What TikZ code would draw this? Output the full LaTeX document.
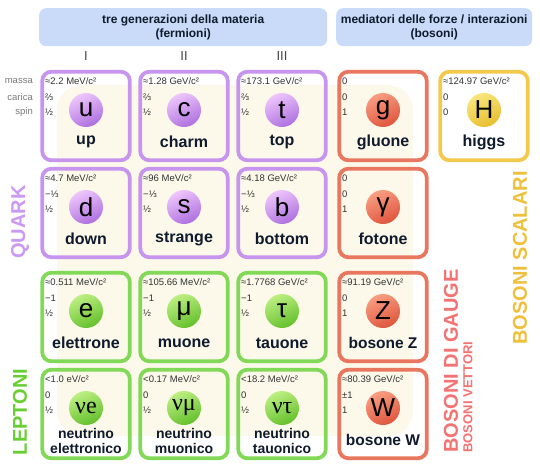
\documentclass[tikz,border=0pt]{standalone}
\usepackage{fontspec}
\setmainfont{Liberation Sans}
\newfontfamily\serifnu{Liberation Serif}
\definecolor{qborder}{HTML}{C795EE}
\definecolor{qtop}{HTML}{EEC6FC}
\definecolor{qbot}{HTML}{AE70DF}
\definecolor{lborder}{HTML}{82D957}
\definecolor{ltop}{HTML}{BDEF82}
\definecolor{lbot}{HTML}{64C02C}
\definecolor{gborder}{HTML}{E9765E}
\definecolor{gtop}{HTML}{F99E82}
\definecolor{gbot}{HTML}{DF553D}
\definecolor{hborder}{HTML}{F2C94C}
\definecolor{htop}{HTML}{F8E67C}
\definecolor{hbot}{HTML}{E8BF30}
\definecolor{headblue}{HTML}{C9DBF8}
\definecolor{nametext}{HTML}{0F1B2C}
\definecolor{infotext}{HTML}{333333}
\definecolor{graytext}{HTML}{7A7A7A}
\definecolor{romantext}{HTML}{444444}
\definecolor{beige}{HTML}{FCF8EA}
\definecolor{quarkcol}{HTML}{CB98F4}
\definecolor{leptcol}{HTML}{68CF33}
\definecolor{gaugecol}{HTML}{F47272}
\definecolor{scalcol}{HTML}{EFC03A}
\newcommand\pcard[8]{%
  \node[card, draw=#4border] (#1) at (#2,#3) {};
  \node[ball, top color=#4top, bottom color=#4bot, shading angle=25] (#1s) at (#2,#3-6) {#8};
  \node[info] (#1m) at (#2-41,#3-35) {#5};
  \node[info] (#1q) at (#2-41,#3-19) {#6};
  \node[info] (#1j) at (#2-41,#3-4) {#7};
}
\begin{document}
\begin{tikzpicture}[x=1pt,y=-1pt,
  card/.style={rectangle, rounded corners=9pt, line width=3.8pt, minimum width=87.5pt, minimum height=88.5pt, inner sep=0pt},
  ball/.style={circle, minimum size=34pt, inner sep=0pt, font=\fontsize{26}{26}\selectfont, text=black},
  info/.style={anchor=west, inner sep=0pt, font=\fontsize{9.5}{10}\selectfont, text=infotext},
  nm/.style={font=\bfseries\fontsize{16}{17}\selectfont, text=nametext, inner sep=0pt},
  nmtwo/.style={font=\bfseries\fontsize{14}{15.5}\selectfont, text=nametext, align=center, inner sep=0pt},
  rowlbl/.style={anchor=east, inner sep=0pt, font=\fontsize{9.5}{10}\selectfont, text=graytext},
  roman/.style={font=\fontsize{13}{13}\selectfont, text=romantext, inner sep=0pt},
  head/.style={rounded corners=7pt, fill=headblue, anchor=north west, inner sep=0pt, font=\bfseries\fontsize{12}{14}\selectfont, align=center, text=nametext},
  bigside/.style={rotate=90, font=\bfseries\fontsize{20}{20}\selectfont, inner sep=0pt}
]
\useasboundingbox (0,0) rectangle (540,470);
\fill[white] (0,0) rectangle (540,470);
% faint background
\fill[beige, rounded corners=25pt] (57,85) rectangle (413,436);
% headers
\node[head, minimum width=288pt, minimum height=38pt] (hferm) at (39,8) {tre generazioni della materia\\(fermioni)};
\node[head, minimum width=196pt, minimum height=38pt] (hbos) at (336,8) {mediatori delle forze / interazioni\\(bosoni)};
% roman numerals
\node[roman] (gen1) at (86,56) {I};
\node[roman] (gen2) at (184,56) {II};
\node[roman] (gen3) at (282,56) {III};
% row labels
\node[rowlbl] (lmass) at (33,81) {massa};
\node[rowlbl] (lcharge) at (33,97) {carica};
\node[rowlbl] (lspin) at (33,112) {spin};
% quarks
\pcard{up}{86}{116}{q}{≈2.2 MeV/c²}{⅔}{½}{u}
\pcard{charm}{184}{116}{q}{≈1.28 GeV/c²}{⅔}{½}{c}
\pcard{top}{282}{116}{q}{≈173.1 GeV/c²}{⅔}{½}{t}
\pcard{down}{86}{213}{q}{≈4.7 MeV/c²}{−⅓}{½}{d}
\pcard{strange}{184}{213}{q}{≈96 MeV/c²}{−⅓}{½}{s}
\pcard{bottom}{282}{213}{q}{≈4.18 GeV/c²}{−⅓}{½}{b}
% leptons
\pcard{elec}{86}{317}{l}{≈0.511 MeV/c²}{−1}{½}{e}
\pcard{muon}{184}{317}{l}{≈105.66 MeV/c²}{−1}{½}{μ}
\pcard{tau}{282}{317}{l}{≈1.7768 GeV/c²}{−1}{½}{τ}
\pcard{nue}{86}{414}{l}{<1.0 eV/c²}{0}{½}{\serifnu\fontsize{24}{24}\selectfont νe}
\pcard{numu}{184}{414}{l}{<0.17 MeV/c²}{0}{½}{\serifnu\fontsize{24}{24}\selectfont νμ}
\pcard{nutau}{282}{414}{l}{<18.2 MeV/c²}{0}{½}{\serifnu\fontsize{24}{24}\selectfont ντ}
% gauge bosons
\pcard{gluon}{383}{116}{g}{0}{0}{1}{g}
\pcard{photon}{383}{213}{g}{0}{0}{1}{γ}
\pcard{zbos}{383}{317}{g}{≈91.19 GeV/c²}{0}{1}{Z}
\pcard{wbos}{383}{414}{g}{≈80.39 GeV/c²}{±1}{1}{W}
% higgs
\pcard{higgs}{484}{116}{h}{≈124.97 GeV/c²}{0}{0}{H}
% names
\node[nm] (upn) at (86,142) {up};
\node[nm] (charmn) at (184,142) {charm};
\node[nm] (topn) at (282,142) {top};
\node[nm] (downn) at (86,239) {down};
\node[nm] (strangen) at (184,239) {strange};
\node[nm] (bottomn) at (282,239) {bottom};
\node[nm] (elecn) at (86,343) {elettrone};
\node[nm] (muonn) at (184,343) {muone};
\node[nm] (taun) at (282,343) {tauone};
\node[nmtwo] (nuen) at (86,441) {neutrino\\elettronico};
\node[nmtwo] (numun) at (184,441) {neutrino\\muonico};
\node[nmtwo] (nutaun) at (282,441) {neutrino\\tauonico};
\node[nm] (gluonn) at (383,142) {gluone};
\node[nm] (photonn) at (383,239) {fotone};
\node[nm, font=\bfseries\fontsize{15.5}{17}\selectfont] (zbosn) at (383,343) {bosone Z};
\node[nm, font=\bfseries\fontsize{15.5}{17}\selectfont] (wbosn) at (383,440) {bosone W};
\node[nm] (higgsn) at (484,142) {higgs};
% side labels
\node[bigside, text=quarkcol] (lquark) at (20,222) {QUARK};
\node[bigside, text=leptcol] (llept) at (20,412) {LEPTONI};
\node[bigside, text=gaugecol] (lgauge) at (451,361) {BOSONI DI GAUGE};
\node[bigside, text=gaugecol, font=\bfseries\fontsize{13}{13}\selectfont] (lvect) at (468,397) {BOSONI VETTORI};
\node[bigside, text=scalcol] (lscal) at (520,258) {BOSONI SCALARI};
\end{tikzpicture}
\end{document}
